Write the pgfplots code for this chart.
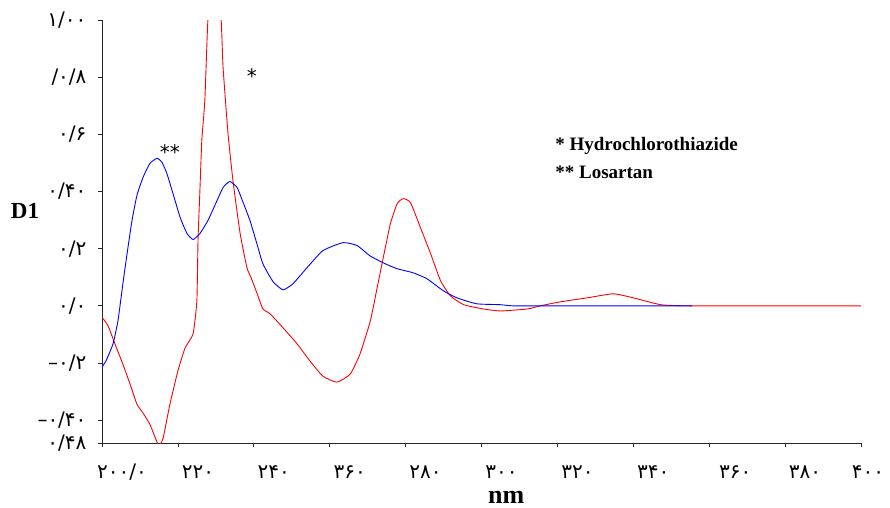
\documentclass[border=0pt]{standalone}
\usepackage{pgfplots}
\pgfplotsset{compat=1.18}
\usepackage{fontspec}
\setmainfont{Liberation Serif}
\newfontfamily\fa{DejaVu Sans}
\begin{document}
\begin{tikzpicture}
\begin{axis}[
  name=ax,
  scale only axis,
  width=759pt, height=423pt,
  xmin=200, xmax=400, ymin=-0.48, ymax=1.0,
  axis lines*=left,
  axis line style={black!85, line width=0.9pt},
  tick align=outside,
  major tick length=4pt,
  tick style={black!85, line width=0.8pt},
  clip mode=individual,
  xtick={200,220,240,260,280,300,320,340,360,380,400},
  xticklabels={۲۰۰/۰,۲۲۰,۲۴۰,۳۶۰,۲۸۰,۳۰۰,۳۲۰,۳۴۰,\hspace*{6pt}۳۶۰\hspace*{-6pt},۳۸۰,\hspace*{-13pt}۴۰۰\hspace*{13pt}},
  ytick={-0.48,-0.4,-0.2,0,0.2,0.4,0.6,0.8,1},
  yticklabels={۰/۴۸,–۰/۴۰,–۰/۲,۰/۰,۰/۲,۰/۴۰,۰/۶,/۰/۸,۱/۰۰},
  xticklabel style={font=\fa\fontsize{20}{20}\selectfont, anchor=center, inner sep=0pt, xshift=20pt, yshift=-25pt},
  yticklabel style={font=\fa\fontsize{20}{20}\selectfont, anchor=east, xshift=-8pt},
]
% Hydrochlorothiazide (red)
\addplot[red, line width=0.9pt, smooth, tension=0.3] coordinates {
(200.0,-0.04) (201.6,-0.07) (203.4,-0.133) (205.5,-0.204) (207.4,-0.274)
(209.2,-0.344) (210.8,-0.375) (212.6,-0.414) (214.2,-0.467) (215.0,-0.49)
(216.1,-0.463) (217.9,-0.344) (220.0,-0.228) (221.9,-0.147) (224.0,-0.098)
(225.0,0.018) (225.3,0.228) (225.8,0.404) (226.3,0.579) (227.1,0.719)
(227.9,1.0) (229.6,1.35) (231.4,1.0) (231.9,0.835) (233.2,0.604)
(234.5,0.439) (236.4,0.253) (238.2,0.133) (239.3,0.098) (240.9,0.042)
(242.4,-0.011) (244.3,-0.028) (247.7,-0.077) (251.4,-0.133) (254.8,-0.193)
(258.2,-0.246) (261.9,-0.267) (265.4,-0.239) (268.0,-0.168) (270.7,-0.053)
(272.5,0.063) (274.1,0.168) (276.0,0.288) (277.8,0.358) (279.4,0.375)
(281.3,0.361) (283.9,0.274) (286.6,0.182) (289.2,0.088) (291.8,0.035)
(295.3,0.004) (300.5,-0.011) (305.0,-0.018) (312.1,-0.011) (315.5,0.0)
(320.8,0.014) (327.9,0.028) (334.7,0.042) (340.0,0.028) (347.2,0.004)
(355.4,0.0) (400.0,0.0)
};
% Losartan (blue)
\addplot[blue, line width=0.9pt, smooth, tension=0.3] coordinates {
(200.0,-0.214) (201.05,-0.193) (202.9,-0.133) (204.2,-0.053) (205.5,0.077)
(206.6,0.182) (207.9,0.298) (209.2,0.386) (210.8,0.449) (212.6,0.498)
(214.5,0.516) (215.8,0.502) (217.1,0.463) (218.7,0.393) (220.6,0.309)
(222.4,0.253) (224.0,0.232) (225.8,0.253) (227.9,0.298) (230.3,0.368)
(231.9,0.414) (233.7,0.435) (235.6,0.414) (237.2,0.361) (239.0,0.298)
(240.8,0.218) (242.4,0.147) (245.1,0.084) (247.7,0.056) (250.3,0.077)
(254.0,0.133) (258.2,0.193) (263.5,0.221) (267.2,0.211) (270.6,0.175)
(274.0,0.151) (277.7,0.130) (281.9,0.116) (285.6,0.095) (289.9,0.053)
(293.5,0.028) (298.8,0.007) (304.9,0.004) (308.3,0.0) (318.8,0.0)
(355.5,0.0)
};
\node[font=\fa\fontsize{20}{20}\selectfont] at (axis cs:239.5,0.804) {*};
\node[font=\fa\fontsize{20}{20}\selectfont] at (axis cs:217.9,0.537) {**};
\node[anchor=west, font=\bfseries\fontsize{19}{19}\selectfont, inner sep=0pt] at (axis cs:319.4,0.558) {* Hydrochlorothiazide};
\node[anchor=west, font=\bfseries\fontsize{19}{19}\selectfont, inner sep=0pt] at (axis cs:319.4,0.467) {** Losartan};
\node[font=\bfseries\fontsize{23}{23}\selectfont] at (axis cs:200,0.333) [xshift=-77pt] {D1};
\node[font=\bfseries\fontsize{26}{26}\selectfont, inner sep=0pt] at (axis cs:306.5,-0.48) [yshift=-54pt] {nm};
\end{axis}
\pgfresetboundingbox
\path ([shift={(-102pt,-64pt)}]ax.south west) rectangle ([shift={(29pt,20pt)}]ax.north east);
\end{tikzpicture}
\end{document}
